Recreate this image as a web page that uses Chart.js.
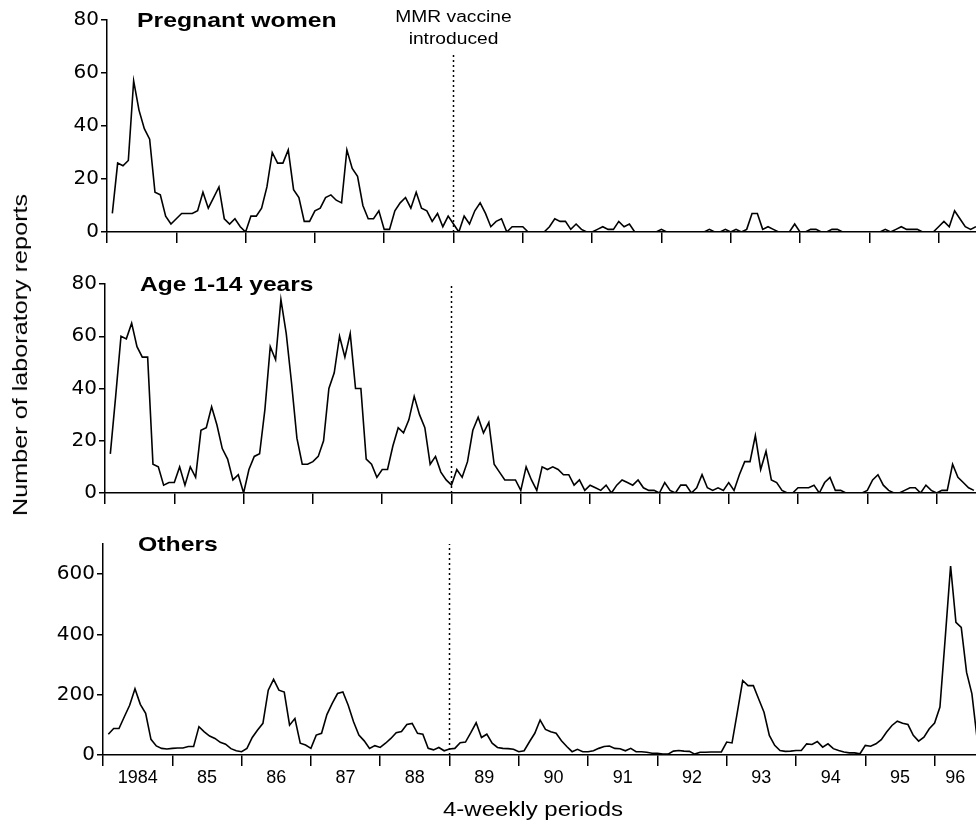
<!DOCTYPE html>
<html>
<head>
<meta charset="utf-8">
<script src="https://cdn.jsdelivr.net/npm/chart.js@4.4.1/dist/chart.umd.min.js"></script>
<style>
  body { margin: 0; background: #fff; width: 976px; height: 823px; overflow: hidden; position: relative; }
  canvas { position: absolute; left: 0; }
  #ytitle {
    position: absolute; left: 20px; top: 355px;
    transform: translate(-50%, -50%) rotate(-90deg) scaleX(1.2);
    font: 21px "Liberation Sans", Arial, sans-serif; color: #000; white-space: nowrap;
  }
</style>
</head>
<body>
<canvas id="pregnant" width="976" height="250" style="top:0px"></canvas>
<canvas id="children" width="976" height="251" style="top:260px"></canvas>
<canvas id="others" width="976" height="293" style="top:530px"></canvas>
<div id="ytitle">Number of laboratory reports</div>

<script>
// 4-weekly periods, 13 per year, from the start of 1984
const yearLabels = ['1984', '85', '86', '87', '88', '89', '90', '91', '92', '93', '94', '95', '96']
const periodsPerYear = 13
const vaccinePeriod = 65  // end of 1988

const pregnantWomen = [
  7, 26, 25, 27, 57, 46, 39, 35, 15, 14, 6, 3, 5,
  7, 7, 7, 8, 15, 9, 13, 17, 5, 3, 5, 2, 0,
  6, 6, 9, 17, 30, 26, 26, 31, 16, 13, 4, 4, 8,
  9, 13, 14, 12, 11, 31, 24, 21, 10, 5, 5, 8, 1,
  1, 8, 11, 13, 9, 15, 9, 8, 4, 7, 2, 6, 3,
  0, 6, 3, 8, 11, 7, 2, 4, 5, 0, 2, 2, 2,
  0, 0, 0, 0, 2, 5, 4, 4, 1, 3, 1, 0, 0,
  1, 2, 1, 1, 4, 2, 3, 0, 0, 0, 0, 0, 1,
  0, 0, 0, 0, 0, 0, 0, 0, 1, 0, 0, 1, 0,
  1, 0, 1, 7, 7, 1, 2, 1, 0, 0, 0, 3, 0,
  0, 1, 1, 0, 0, 1, 1, 0, 0, 0, 0, 0, 0,
  0, 0, 1, 0, 1, 2, 1, 1, 1, 0, 0, 0, 2,
  4, 2, 8, 5, 2, 1, 2
]

const age1to14 = [
  15, 37, 60, 59, 65, 56, 52, 52, 11, 10, 3, 4, 4,
  10, 3, 10, 6, 24, 25, 33, 26, 17, 13, 5, 7, 0,
  9, 14, 15, 32, 56, 51, 74, 61, 42, 21, 11, 11, 12,
  14, 20, 40, 46, 60, 52, 61, 40, 40, 13, 11, 6, 9,
  9, 18, 25, 23, 28, 37, 30, 25, 11, 14, 8, 5, 3,
  9, 6, 12, 24, 29, 23, 27, 11, 8, 5, 5, 5, 1,
  10, 5, 1, 10, 9, 10, 9, 7, 7, 3, 5, 1, 3,
  2, 1, 3, 0, 3, 5, 4, 3, 5, 2, 1, 1, 0,
  4, 1, 0, 3, 3, 0, 2, 7, 2, 1, 2, 1, 4,
  1, 7, 12, 12, 22, 9, 16, 5, 4, 1, 0, 0, 2,
  2, 2, 3, 0, 4, 6, 1, 1, 0, 0, 0, 0, 1,
  5, 7, 3, 1, 0, 0, 1, 2, 2, 0, 3, 1, 0,
  1, 1, 11, 6, 4, 2, 1
]

const others = [
  69, 88, 88, 127, 165, 220, 168, 138, 52, 30, 22, 20, 22,
  23, 23, 28, 28, 94, 77, 63, 55, 42, 36, 21, 14, 11,
  22, 58, 83, 105, 215, 251, 215, 209, 99, 121, 39, 33, 22,
  66, 72, 134, 171, 204, 209, 165, 110, 66, 47, 22, 31, 25,
  39, 55, 74, 78, 101, 105, 72, 69, 22, 17, 25, 14, 20,
  22, 41, 43, 74, 107, 58, 69, 39, 25, 22, 21, 19, 11,
  14, 44, 72, 116, 85, 77, 72, 47, 28, 11, 19, 11, 11,
  14, 22, 28, 30, 22, 21, 14, 22, 11, 11, 9, 6, 6,
  3, 3, 13, 15, 13, 12, 3, 9, 9, 10, 10, 10, 43,
  40, 142, 247, 230, 230, 186, 142, 65, 32, 15, 12, 13, 15,
  15, 37, 35, 45, 26, 37, 21, 15, 10, 7, 7, 4, 32,
  29, 37, 51, 76, 98, 112, 105, 101, 65, 46, 59, 87, 106,
  159, 390, 627, 440, 423, 274, 203, 50
]

const FONT = '"Liberation Sans", Arial, Helvetica, sans-serif'
const TICKFONT = '"DejaVu Sans", "Liberation Sans", Arial, sans-serif'
const yearPx = 69.3

// free text : panel titles, the MMR note, the x title
const panelText = {
  id: 'panelText',
  afterDraw(chart, args, opts) {
    const ctx = chart.ctx
    opts.items.forEach(item => {
      ctx.save()
      ctx.font = item.font
      ctx.fillStyle = '#000'
      ctx.textAlign = item.align || 'left'
      ctx.textBaseline = 'alphabetic'
      let x = item.atVaccine ? chart.scales.x.getPixelForValue(vaccinePeriod) : item.x
      ctx.translate(x, item.y)
      ctx.scale(item.stretch || 1, 1)
      ctx.fillText(item.text, 0, 0)
      ctx.restore()
    })
  }
}

function panel(id, values, o) {
  const xMax = (976 - o.yWidth) / (yearPx / periodsPerYear)

  let scales = {
    x: {
      type: 'linear', min: 0, max: xMax, position: 'bottom', weight: 0,
      grid: { drawOnChartArea: false, tickLength: 11, color: '#000', lineWidth: 1.5 },
      border: { color: '#000', width: 1.5 },
      ticks: { display: false, stepSize: periodsPerYear, includeBounds: false },
      afterFit: s => { s.height = o.xHeight }
    },
    y: {
      min: 0, max: o.yMax,
      grid: { drawOnChartArea: false, tickLength: 6, color: '#000', lineWidth: 1.5 },
      border: { color: '#000', width: 1.5 },
      ticks: { stepSize: o.yStep, includeBounds: false, color: '#000', padding: 2, font: { family: TICKFONT, size: 20 } },
      afterFit: s => { s.width = o.yWidth }
    }
  }

  if (o.yearAxis) {
    scales.xl = {
      type: 'linear', min: 0, max: xMax, position: 'bottom', weight: 1,
      grid: { display: false },
      border: { display: false },
      afterBuildTicks: s => {
        s.ticks = yearLabels.map((l, k) => ({
          value: k < yearLabels.length - 1 ? k * periodsPerYear + 6.5 : (k * periodsPerYear + xMax) / 2
        }))
      },
      ticks: {
        autoSkip: false, maxRotation: 0, padding: 0, color: '#000',
        font: { family: FONT, size: 18 },
        callback: (v, i) => yearLabels[i]
      },
      afterFit: s => { s.height = o.yearAxis }
    }
  }

  new Chart(document.getElementById(id), {
    type: 'line',
    data: {
      datasets: [
        {
          data: values.map((v, i) => ({ x: i + 1, y: v })),
          borderColor: '#000', borderWidth: 1.6, pointRadius: 0, tension: 0, fill: false
        },
        {
          data: [{ x: vaccinePeriod, y: 0 }, { x: vaccinePeriod, y: o.dashTop }],
          borderColor: '#000', borderWidth: 1.5, borderDash: [2, 3], pointRadius: 0, fill: false
        }
      ]
    },
    options: {
      responsive: false,
      animation: false,
      events: [],
      layout: { padding: { top: o.padTop, left: 0, right: 0, bottom: 0 } },
      plugins: {
        legend: { display: false },
        tooltip: { enabled: false },
        panelText: { items: o.texts }
      },
      scales: scales
    },
    plugins: [panelText]
  })
}

panel('pregnant', pregnantWomen, {
  yWidth: 107, yMax: 80, yStep: 20, padTop: 20, xHeight: 18, dashTop: 67,
  texts: [
    { text: 'Pregnant women', x: 137, y: 27, font: 'bold 21px ' + FONT, stretch: 1.18 },
    { text: 'MMR vaccine', atVaccine: true, y: 22, font: '16px ' + FONT, align: 'center', stretch: 1.2 },
    { text: 'introduced', atVaccine: true, y: 44, font: '16px ' + FONT, align: 'center', stretch: 1.2 }
  ]
})

panel('children', age1to14, {
  yWidth: 105, yMax: 80, yStep: 20, padTop: 24, xHeight: 18, dashTop: 80,
  texts: [
    { text: 'Age 1-14 years', x: 140, y: 31, font: 'bold 21px ' + FONT, stretch: 1.17 }
  ]
})

panel('others', others, {
  yWidth: 103, yMax: 700, yStep: 200, padTop: 13, xHeight: 4, yearAxis: 64, dashTop: 700,
  texts: [
    { text: 'Others', x: 138, y: 21, font: 'bold 21px ' + FONT, stretch: 1.18 },
    { text: '4-weekly periods', x: 533, y: 286, font: '20px ' + FONT, align: 'center', stretch: 1.2 }
  ]
})
</script>
</body>
</html>
